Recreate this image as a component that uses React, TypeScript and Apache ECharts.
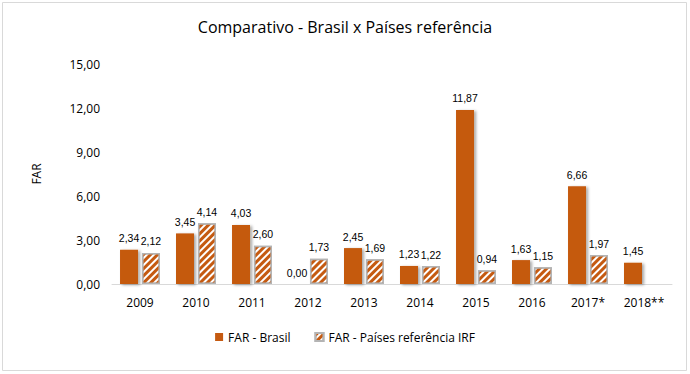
import React, { useEffect, useRef } from "react";
import * as echarts from "echarts";

const categories = ["2009", "2010", "2011", "2012", "2013", "2014", "2015", "2016", "2017*", "2018**"];
const brasil = [2.34, 3.45, 4.03, 0.0, 2.45, 1.23, 11.87, 1.63, 6.66, 1.45];
const irf: (number | null)[] = [2.12, 4.14, 2.6, 1.73, 1.69, 1.22, 0.94, 1.15, 1.97, null];
const yTicks = [0, 3, 6, 9, 12, 15];

const ORANGE = "#C55A11";
const fmt = (v: number) => v.toFixed(2).replace(".", ",");

export default function App() {
  const ref = useRef<HTMLDivElement>(null);
  useEffect(() => {
    document.body.style.margin = "0";
    const chart = echarts.init(ref.current!, null, { renderer: "svg" });
    const font = "Open Sans";
    const labelFont = "Liberation Sans";
    chart.setOption({
      animation: false,
      backgroundColor: "#fff",
      graphic: [
        {
          type: "rect",
          shape: { x: 2.5, y: 2.5, width: 684, height: 368 },
          style: { fill: "none", stroke: "#d9d9d9", lineWidth: 1 },
          silent: true,
        },
      ],
      title: {
        text: "Comparativo - Brasil x Países referência",
        left: "center",
        top: 14,
        textStyle: { fontFamily: font, fontSize: 16, fontWeight: "normal", color: "#000" },
      },
      legend: {
        bottom: 26,
        left: "center",
        itemWidth: 8,
        itemHeight: 8,
        itemGap: 24,
        icon: "rect",
        textStyle: { fontFamily: font, fontSize: 12, color: "#000" },
        data: ["FAR - Brasil", "FAR - Países referência IRF"],
      },
      grid: { left: 112, right: 18, top: 64, bottom: 90, containLabel: false },
      xAxis: {
        type: "category",
        data: categories,
        axisLine: { lineStyle: { color: "#d9d9d9" } },
        axisTick: { show: false },
        axisLabel: { fontFamily: font, fontSize: 12, color: "#000", margin: 12 },
      },
      yAxis: {
        type: "value",
        min: yTicks[0],
        max: yTicks[yTicks.length - 1],
        interval: 3,
        name: "FAR",
        nameLocation: "middle",
        nameRotate: 90,
        nameGap: 70,
        nameTextStyle: { fontFamily: font, fontSize: 12, color: "#000" },
        splitLine: { show: false },
        axisLine: { show: false },
        axisTick: { show: false },
        axisLabel: { fontFamily: font, fontSize: 12, color: "#000", margin: 12, formatter: (v: number) => fmt(v) },
      },
      series: [
        {
          name: "FAR - Brasil",
          type: "bar",
          data: brasil,
          barWidth: 18,
          barGap: "22%",
          itemStyle: {
            color: ORANGE,
            shadowColor: "rgba(0,0,0,0.35)",
            shadowBlur: 3,
            shadowOffsetX: 2,
            shadowOffsetY: 1,
          },
          label: {
            show: true,
            position: "top",
            distance: 6,
            fontFamily: labelFont,
            fontSize: 10.5,
            color: "#000",
            formatter: (p: any) => fmt(p.value),
          },
        },
        {
          name: "FAR - Países referência IRF",
          type: "bar",
          data: irf,
          barWidth: 18,
          itemStyle: {
            color: "#fff",
            borderColor: "#b4b4b4",
            borderWidth: 1.5,
            decal: {
              symbol: "rect",
              color: ORANGE,
              backgroundColor: "#fff",
              dashArrayX: [1, 0],
              dashArrayY: [3, 2],
              rotation: -Math.PI / 4,
            },
          },
          label: {
            show: true,
            position: "top",
            distance: 6,
            fontFamily: labelFont,
            fontSize: 10.5,
            color: "#000",
            formatter: (p: any) => (p.value == null ? "" : fmt(p.value)),
          },
        },
      ],
    });
    return () => chart.dispose();
  }, []);
  return <div ref={ref} style={{ width: 690, height: 374 }} />;
}
